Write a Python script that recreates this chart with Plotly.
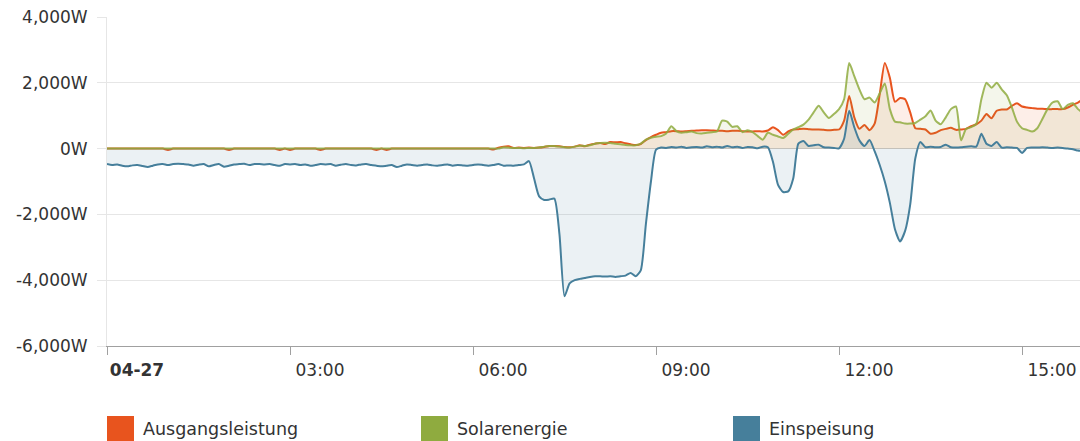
import pandas as pd
import plotly.graph_objects as go

DATE = "2015-04-27"
series_names = ["Ausgangsleistung", "Solarenergie", "Einspeisung"]
series_colors = ["#E8541E", "#8FAB3F", "#467F9B"]
line_colors = ["#E8541E", "rgba(143,171,63,0.85)", "#467F9B"]
fill_colors = ["rgba(232,84,30,0.10)", "rgba(143,171,63,0.10)", "rgba(70,127,155,0.11)"]

# 5-minute timestamps 00:00 .. 16:00
times = pd.date_range(f"{DATE} 00:00", f"{DATE} 16:00", freq="5min")

# Ausgangsleistung (W)
ausgang = (
    [0] * 12 +
    [-40, 0, 0, 0, 0, 0, 0, 0, 0, 0, 0, 0] +
    [-40, 0, 0, 0, 0, 0, 0, 0, 0, 0, -40, 0] +
    [-40, 0, 0, 0, 0, 0, -40, 0, 0, 0, 0, 0] +
    [0, 0, 0, 0, 0, -40, 0, -40, 0, 0, 0, 0] +
    [0] * 12 +
    [0, 0, 0, 0, -30, 30,
     60, 70, 20, 30, 20, 30,
     20, 30, 50, 80, 80, 70, 50, 40, 60, 100, 70, 120,
     150, 170, 140, 200, 190, 200, 160, 130, 110, 140, 260, 350,
     420, 480, 500, 530, 530, 520, 530, 540, 550, 560, 560, 550,
     540, 540, 530, 540, 540, 530, 520, 520, 530, 520, 550, 650,
     560, 420, 520, 580, 590, 600, 590, 580, 580, 570, 560, 570,
     580, 850, 1600, 950, 600, 720, 560, 760, 1650, 2600, 2150, 1420,
     1540, 1500, 1100, 620, 600, 580, 450, 480, 560, 600, 630, 570,
     580, 600, 680, 740, 850, 1050, 920, 1150, 1190, 1190, 1300, 1380,
     1280, 1250, 1230, 1210, 1210, 1200, 1200, 1200, 1200, 1250, 1330, 1400,
     1500]
)

# Solarenergie (W)
solar = (
    [0] * 72 +
    [0, 0, 0, 0, 0, 0,
     40, 30, 20, 20, 10, 20,
     20, 30, 60, 80, 80, 60, 40, 30, 60, 90, 80, 100,
     150, 170, 180, 170, 150, 130, 110, 100, 100, 150, 270, 330,
     360, 380, 460, 680, 530, 480, 500, 520, 470, 460, 480, 500,
     520, 850, 820, 660, 680, 500, 560, 500, 380, 270, 480, 420,
     370, 320, 450, 580, 650, 730, 880, 1100, 1300, 1100, 930, 1050,
     1200, 1500, 2600, 2200, 1800, 1500, 1550, 1400, 1680, 1980, 1200, 820,
     800, 760, 760, 780, 880, 980, 1160, 850, 740, 950, 1200, 1280,
     250, 600, 650, 750, 1500, 2000, 1850, 2000, 1800, 1620, 1250, 820,
     620, 570, 520, 620, 900, 1200, 1400, 1440, 1200, 1330, 1380, 1200,
     1080]
)

# Einspeisung (W)
einspeisung = (
    [-470, -500, -480, -520, -540, -510, -500, -530, -560, -520, -480, -470] +
    [-500, -470, -460, -470, -480, -520, -490, -470, -540, -500, -470, -550] +
    [-520, -480, -470, -460, -500, -470, -470, -480, -470, -500, -520, -470] +
    [-480, -470, -500, -480, -520, -500, -470, -480, -470, -520, -490, -470] +
    [-500, -510, -480, -470, -500, -520, -540, -520, -500, -560, -520, -480] +
    [-500, -520, -500, -480, -510, -520, -500, -480, -520, -500, -510, -520] +
    [-500, -480, -500, -520, -500, -470,
     -520, -510, -520, -500, -480, -380,
     -900, -1450, -1560, -1550, -1520, -2600, -4490, -4100, -4000, -3960, -3930, -3900,
     -3880, -3880, -3890, -3880, -3900, -3880, -3860, -3780, -3880, -3700, -2300, -1000,
     -30, 30, 20, 50, 30, 60, 20, 40, 50, 30, 70, 40,
     60, 30, 80, 40, 60, 20, 50, 40, 10, 60, 40, -400,
     -1100, -1320, -1300, -900, 150, 230, 80, 100, 120, 40, 30, 20,
     10, 300, 1150, 650, 250, 80, 260, -80, -500, -1000, -1650, -2450,
     -2820, -2500, -1700, -300, 200, 40, 60, 40, 50, 120, 40, 30,
     40, 60, 70, 60, 450, 150, 80, 200, 30, 40, 30, 20,
     -130, 20, 30, 30, 40, 30, 20, 30, 20, 0, -20, -60,
     -80]
)

series_values = [ausgang, solar, einspeisung]

x_tickvals = [f"{DATE} {h}" for h in ["00:00", "03:00", "06:00", "09:00", "12:00", "15:00"]]
x_ticktext = ["<b>04-27</b>", "03:00", "06:00", "09:00", "12:00", "15:00"]
y_tickvals = [-6000, -4000, -2000, 0, 2000, 4000]
y_ticktext = ["-6,000W", "-4,000W", "-2,000W", "0W", "2,000W", "4,000W"]

# page geometry (body margin removed below, so figure sits at the page origin)
W, H = 1080, 441
PLOT_L, PLOT_R, PLOT_T, PLOT_B = 107, 1080, 17, 346
L, T = PLOT_L, PLOT_T
R = W - PLOT_R
B = H - PLOT_B

fig = go.Figure()
for name, vals, lcol, fcol in zip(series_names, series_values, line_colors, fill_colors):
    fig.add_trace(go.Scatter(
        x=times, y=vals, name=name, mode="lines",
        line=dict(color=lcol, width=2, shape="spline", smoothing=0.6),
        fill="tozeroy", fillcolor=fcol,
        showlegend=False,
    ))

FONT = "DejaVu Sans, Verdana, sans-serif"

fig.update_layout(
    width=W, height=H,
    margin=dict(l=L, r=R, t=T, b=B, autoexpand=False),
    paper_bgcolor="white", plot_bgcolor="white",
    font=dict(family=FONT, size=17, color="#333333"),
    xaxis=dict(
        type="date", automargin=False,
        range=[f"{DATE} 00:00", f"{DATE} 15:57"],
        tickvals=x_tickvals, ticktext=x_ticktext,
        showgrid=False, zeroline=False,
        showline=True, linecolor="#A0A0A0", linewidth=1,
        ticks="outside", ticklen=8, tickcolor="#A0A0A0",
        tickfont=dict(family=FONT, size=17, color="#333333"),
        ticklabelshift=30, ticklabelstandoff=1,
        ticklabeloverflow="allow",
    ),
    yaxis=dict(
        range=[-6000, 4000], automargin=False,
        tickvals=y_tickvals, ticktext=y_ticktext,
        showgrid=True, gridcolor="#E6E6E6", gridwidth=1,
        zeroline=True, zerolinecolor="#CFCFCF", zerolinewidth=1,
        showline=True, linecolor="#E6E6E6", linewidth=1,
        ticks="outside", ticklen=9, tickcolor="#E6E6E6",
        tickfont=dict(family=FONT, size=17, color="#333333"),
        ticklabelstandoff=6,
        ticklabeloverflow="allow",
    ),
)

# custom legend (square swatches + labels), positions in page pixels
def px_x(p):
    return (p - PLOT_L) / (PLOT_R - PLOT_L)

def px_y(p):
    return (PLOT_B - p) / (PLOT_B - PLOT_T)

legend_x = [107, 421, 733]
for lx, name, col in zip(legend_x, series_names, series_colors):
    fig.add_shape(type="rect", xref="paper", yref="paper",
                  x0=px_x(lx), x1=px_x(lx + 27), y0=px_y(416), y1=px_y(443),
                  fillcolor=col, line=dict(width=0), layer="above")
    fig.add_annotation(xref="paper", yref="paper", x=px_x(lx + 34), y=px_y(429),
                       xanchor="left", yanchor="middle", showarrow=False,
                       text=name, font=dict(family=FONT, size=17.5, color="#333333"))

fig.write_html(
    "out.html",
    config={"displayModeBar": False},
    post_script="document.body.style.margin='0';document.body.style.overflow='hidden';",
)
